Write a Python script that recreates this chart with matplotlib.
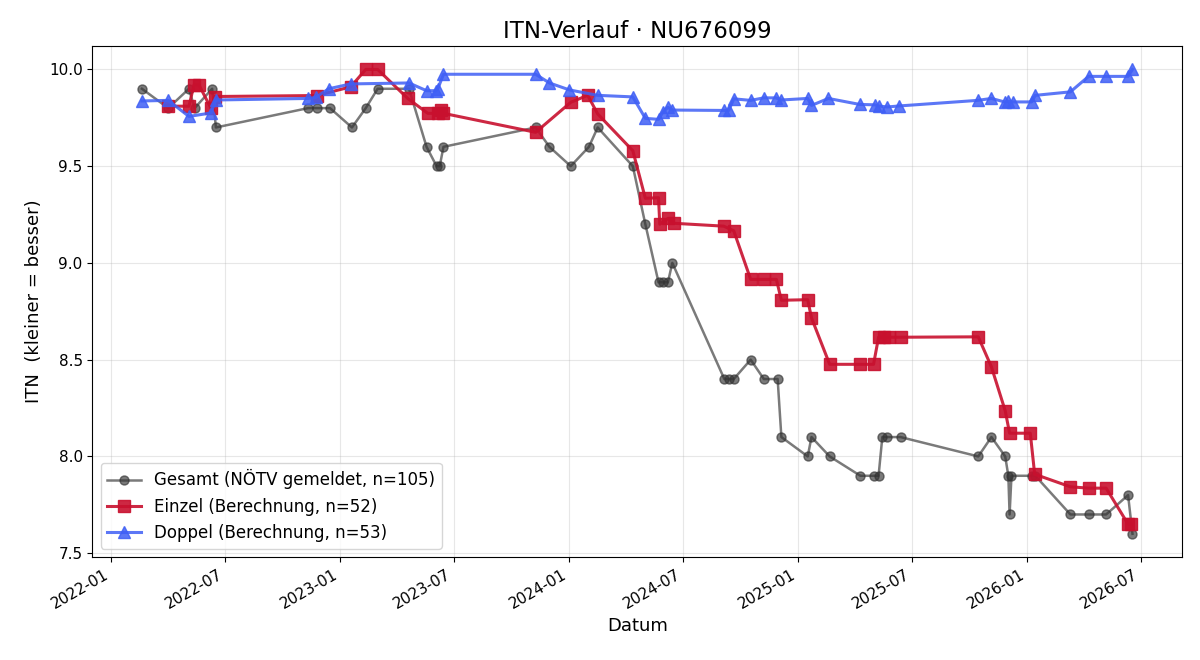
import matplotlib
matplotlib.use("Agg")
import matplotlib.pyplot as plt
import matplotlib.dates as mdates
import pandas as pd

# ---- data ----
gesamt_dates = ["2022-02-19","2022-04-02","2022-05-05","2022-05-14","2022-06-11","2022-06-17",
                "2022-11-11","2022-11-25","2022-12-16","2023-01-20","2023-02-11","2023-03-02",
                "2023-04-21","2023-05-19","2023-06-04","2023-06-09","2023-06-15","2023-11-09",
                "2023-12-01","2024-01-04","2024-02-02","2024-02-16","2024-04-12","2024-05-02",
                "2024-05-23","2024-05-30","2024-06-07","2024-06-14","2024-09-05","2024-09-12",
                "2024-09-20","2024-10-17","2024-11-07","2024-11-29","2024-12-05","2025-01-16",
                "2025-01-22","2025-02-20","2025-04-10","2025-05-01","2025-05-09","2025-05-15",
                "2025-05-23","2025-06-13","2025-10-15","2025-11-05","2025-11-27","2025-12-02",
                "2025-12-04","2025-12-07","2026-01-08","2026-01-14","2026-03-11","2026-04-09",
                "2026-05-07","2026-06-11","2026-06-18"]
gesamt_vals = [9.9,9.8,9.9,9.8,9.9,9.7,
               9.8,9.8,9.8,9.7,9.8,9.9,
               9.9,9.6,9.5,9.5,9.6,9.7,
               9.6,9.5,9.6,9.7,9.5,9.2,
               8.9,8.9,8.9,9.0,8.4,8.4,
               8.4,8.5,8.4,8.4,8.1,8.0,
               8.1,8.0,7.9,7.9,7.9,8.1,
               8.1,8.1,8.0,8.1,8.0,7.9,
               7.7,7.9,7.9,7.9,7.7,7.7,
               7.7,7.8,7.6]

einzel_dates = ["2022-04-02","2022-05-05","2022-05-13","2022-05-21","2022-06-09","2022-06-15",
                "2022-11-25","2023-01-18","2023-02-11","2023-03-02","2023-04-19","2023-05-21",
                "2023-06-06","2023-06-11","2023-06-15","2023-11-09","2024-01-04","2024-01-31",
                "2024-02-16","2024-04-12","2024-05-02","2024-05-23","2024-05-25","2024-06-07",
                "2024-06-16","2024-09-04","2024-09-20","2024-10-17","2024-11-07","2024-11-27",
                "2024-12-05","2025-01-16","2025-01-22","2025-02-20","2025-04-10","2025-05-01",
                "2025-05-09","2025-05-17","2025-05-25","2025-06-13","2025-10-15","2025-11-05",
                "2025-11-27","2025-12-04","2026-01-06","2026-01-13","2026-03-11","2026-04-09",
                "2026-05-07","2026-06-11","2026-06-16"]
einzel_vals = [9.81,9.81,9.92,9.92,9.80,9.86,
               9.865,9.91,10.0,10.0,9.85,9.773,
               9.773,9.79,9.773,9.675,9.83,9.866,
               9.77,9.58,9.334,9.337,9.20,9.23,
               9.205,9.19,9.166,8.915,8.915,8.915,
               8.807,8.81,8.716,8.476,8.476,8.476,
               8.616,8.616,8.616,8.616,8.618,8.463,
               8.236,8.12,8.12,7.908,7.843,7.836,
               7.836,7.65,7.65]

doppel_dates = ["2022-02-19","2022-04-02","2022-05-05","2022-06-09","2022-06-17","2022-11-11",
                "2022-11-23","2022-12-14","2023-01-18","2023-04-21","2023-05-19","2023-06-03",
                "2023-06-06","2023-06-15","2023-11-09","2023-12-01","2024-01-02","2024-02-16",
                "2024-04-12","2024-05-02","2024-05-23","2024-05-30","2024-06-07","2024-06-14",
                "2024-09-04","2024-09-12","2024-09-20","2024-10-17","2024-11-07","2024-11-26",
                "2024-12-05","2025-01-16","2025-01-22","2025-02-18","2025-04-09","2025-05-03",
                "2025-05-09","2025-05-23","2025-06-10","2025-10-14","2025-11-05","2025-11-26",
                "2025-12-02","2025-12-10","2026-01-08","2026-01-14","2026-03-11","2026-04-09",
                "2026-05-07","2026-06-11","2026-06-18"]
doppel_vals = [9.837,9.84,9.757,9.775,9.842,9.85,
               9.855,9.90,9.925,9.93,9.89,9.89,
               9.90,9.975,9.975,9.93,9.894,9.866,
               9.858,9.747,9.742,9.78,9.804,9.79,
               9.788,9.788,9.848,9.84,9.853,9.853,
               9.842,9.85,9.814,9.85,9.819,9.817,
               9.811,9.806,9.811,9.84,9.85,9.832,
               9.835,9.832,9.832,9.866,9.884,9.964,
               9.964,9.964,10.0]

labels = ["Gesamt (NÖTV gemeldet, n=105)", "Einzel (Berechnung, n=52)", "Doppel (Berechnung, n=53)"]
title = "ITN-Verlauf · NU676099"

# ---- plot ----
fig = plt.figure(figsize=(12, 6.6), dpi=100)
ax = fig.add_axes([0.077, 0.156, 0.908, 0.774])

ax.plot(pd.to_datetime(gesamt_dates), gesamt_vals, marker="o", markersize=6.5, linewidth=1.8,
        color="#333333", alpha=0.65, label=labels[0], zorder=2)
ax.plot(pd.to_datetime(einzel_dates), einzel_vals, marker="s", markersize=8.5, linewidth=2.2,
        color="#c8102e", alpha=0.9, label=labels[1], zorder=3)
ax.plot(pd.to_datetime(doppel_dates), doppel_vals, marker="^", markersize=8, linewidth=2.2,
        color="#3f5ff5", alpha=0.85, label=labels[2], zorder=3)

ax.set_title(title, fontsize=16.5)
ax.set_xlabel("Datum", fontsize=13)
ax.set_ylabel("ITN  (kleiner = besser)", fontsize=13)
ax.grid(True, alpha=0.3)
ax.xaxis.set_major_locator(mdates.MonthLocator(bymonth=[1, 7]))
ax.xaxis.set_major_formatter(mdates.DateFormatter("%Y-%m"))
ax.tick_params(labelsize=11)
for lbl in ax.get_xticklabels():
    lbl.set_rotation(30)
    lbl.set_ha("right")
ax.legend(loc="lower left", fontsize=12)

fig.savefig("out.png", dpi=100)
